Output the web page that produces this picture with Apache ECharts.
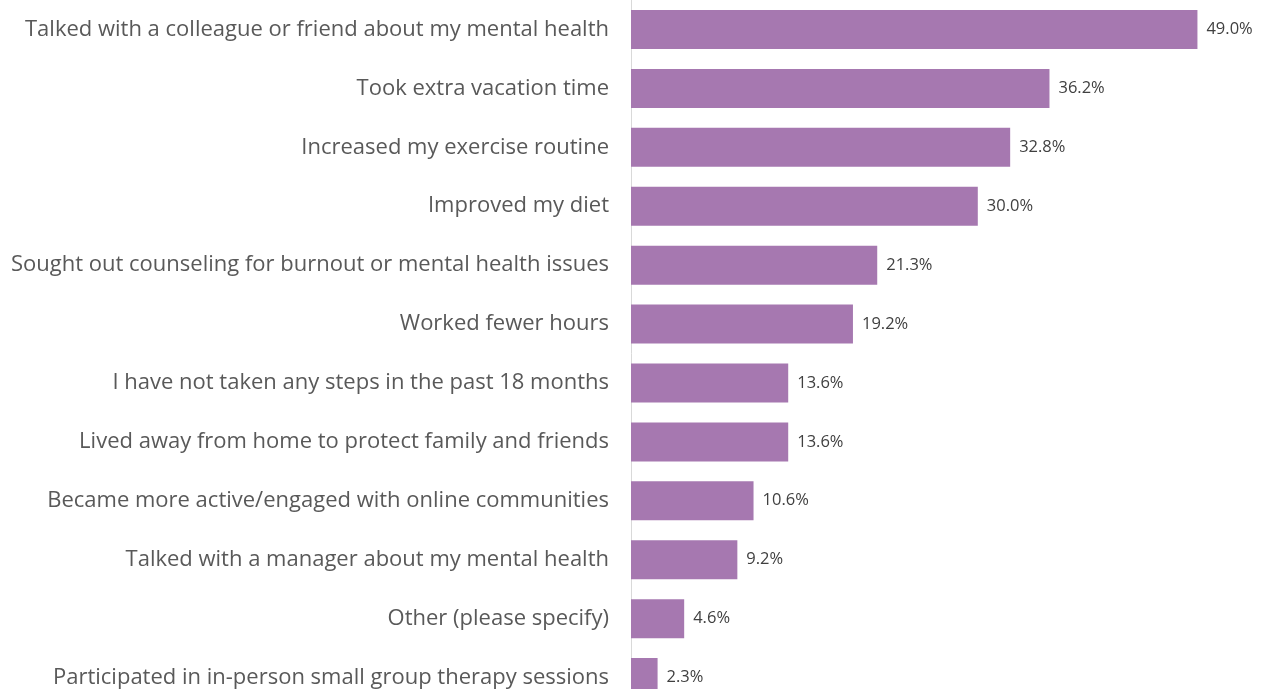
<!DOCTYPE html>
<html><head><meta charset="utf-8">
<script src="https://cdn.jsdelivr.net/npm/echarts@6/dist/echarts.min.js"></script>
<style>html,body{margin:0;padding:0;background:#fff;overflow:hidden}#c{width:1263px;height:707px}</style>
</head><body><div id="c"></div>
<script>
const categories = [
  "Talked with a colleague or friend about my mental health",
  "Took extra vacation time",
  "Increased my exercise routine",
  "Improved my diet",
  "Sought out counseling for burnout or mental health issues",
  "Worked fewer hours",
  "I have not taken any steps in the past 18 months",
  "Lived away from home to protect family and friends",
  "Became more active/engaged with online communities",
  "Talked with a manager about my mental health",
  "Other (please specify)",
  "Participated in in-person small group therapy sessions"
];
const values = [49.0, 36.2, 32.8, 30.0, 21.3, 19.2, 13.6, 13.6, 10.6, 9.2, 4.6, 2.3];

const chart = echarts.init(document.getElementById('c'), null, {renderer:'canvas'});
chart.setOption({
  animation:false,
  grid:{left:631, right:54, top:0, bottom:0, containLabel:false},
  xAxis:{type:'value', min:0, max:50, show:false},
  yAxis:{type:'category', inverse:true, data:categories,
    axisLine:{show:true, lineStyle:{color:'#d9d9d9', width:1}},
    axisTick:{show:false},
    axisLabel:{margin:22, color:'#595959', fontSize:22, fontFamily:'Open Sans'}
  },
  series:[{type:'bar', data:values, barWidth:39,
    itemStyle:{color:'#a678b0'},
    label:{show:true, position:'right', distance:9, color:'#404040', fontSize:16.5, fontFamily:'Open Sans',
      formatter:p=>p.value.toFixed(1)+'%'}
  }]
});
</script></body></html>
